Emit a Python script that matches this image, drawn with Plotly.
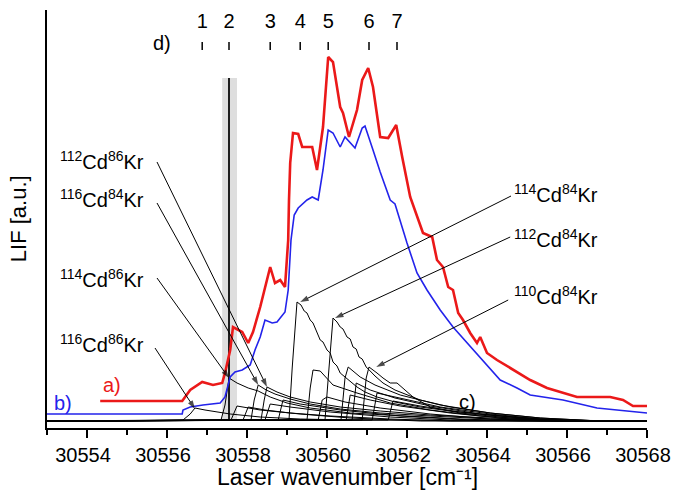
import plotly.graph_objects as go

# ---------------- data (wavenumber [cm-1], LIF [a.u.]) ----------------
red_x = [30554.33, 30556.38, 30556.58, 30556.88, 30557.15, 30557.38, 30557.45, 30557.58, 30557.65,
         30557.88, 30558.03, 30558.15, 30558.33, 30558.45, 30558.58, 30558.70, 30558.83, 30558.95,
         30559.03, 30559.05, 30559.08, 30559.15, 30559.28, 30559.38, 30559.63, 30559.75, 30559.90,
         30560.03, 30560.15, 30560.33, 30560.40, 30560.55, 30560.75, 30560.88, 30561.03, 30561.15,
         30561.33, 30561.53, 30561.73, 30561.88, 30562.08, 30562.40, 30562.63, 30562.75, 30562.90,
         30563.03, 30563.15, 30563.28, 30563.40, 30563.58, 30563.75, 30563.83, 30564.00, 30564.25,
         30564.65, 30565.08, 30565.50, 30565.90, 30566.25, 30567.08, 30567.40, 30567.65, 30568.0]
red_y = [27, 27, 38, 46, 43, 45, 55, 78, 101,
         96, 85, 96, 121, 141, 161, 145, 148, 141,
         188, 228, 265, 295, 294, 281, 281, 258, 301,
         371, 366, 321, 315, 291, 318, 348, 360, 341,
         291, 290, 303, 271, 231, 195, 191, 168, 161,
         141, 138, 115, 108, 95, 85, 91, 75, 68,
         58, 48, 40, 35, 31, 31, 28, 22, 22]

blue_x = [30553.0, 30556.38, 30556.40, 30556.58, 30556.90, 30557.33, 30557.45, 30557.58, 30557.70,
          30557.88, 30558.08, 30558.20, 30558.33, 30558.45, 30558.63, 30558.75, 30558.95, 30559.03,
          30559.10, 30559.18, 30559.28, 30559.50, 30559.63, 30559.78, 30559.90, 30560.03, 30560.15,
          30560.33, 30560.45, 30560.70, 30560.88, 30560.95, 30561.15, 30561.33, 30561.58, 30561.70,
          30562.00, 30562.25, 30562.50, 30562.83, 30563.15, 30563.50, 30563.83, 30564.33, 30564.75,
          30565.08, 30565.90, 30566.75, 30568.0]
blue_y = [14, 14, 18, 21, 23, 25, 31, 51, 56,
          58, 63, 78, 91, 108, 105, 106, 116, 138,
          188, 213, 220, 228, 231, 228, 258, 298, 295,
          281, 291, 280, 300, 302, 278, 256, 228, 224,
          185, 155, 138, 118, 101, 85, 70, 48, 40,
          33, 28, 20, 15]

# simulated isotopologue spectra (c), common baseline
base_y = 7
cd116kr86_x = [30556.40, 30556.58, 30556.70, 30556.95, 30557.58, 30558.33, 30559.33, 30560.58]
cd116kr86_y = [8, 14, 20, 18, 14, 11, 9, 8]
cd114kr86_x = [30557.35, 30557.45, 30557.55, 30557.75, 30558.03, 30558.28, 30558.58, 30559.00,
               30559.58, 30560.58, 30561.83, 30563.33, 30564.83]
cd114kr86_y = [8, 23, 50, 45, 40, 37, 31, 25, 20, 15, 12, 9, 7]
cd116kr84_x = [30558.10, 30558.18, 30558.28, 30558.48, 30558.70, 30559.08, 30559.58, 30560.33,
               30561.33, 30562.58, 30564.08, 30565.58]
cd116kr84_y = [8, 28, 43, 38, 34, 29, 24, 19, 15, 12, 9, 7]
cd112kr86_x = [30558.35, 30558.43, 30558.50, 30558.75, 30559.08, 30559.58, 30560.33, 30561.33,
               30562.58, 30564.08, 30565.83]
cd112kr86_y = [8, 28, 41, 36, 31, 26, 21, 17, 13, 10, 7]
cd114kr84_x = [30559.05, 30559.13, 30559.25, 30559.35, 30559.43, 30559.50, 30559.58, 30559.65,
               30559.73, 30559.83, 30559.90, 30560.00, 30560.08, 30560.15, 30560.25, 30560.33,
               30560.45, 30560.58, 30560.75, 30560.95, 30561.25, 30561.70, 30562.33, 30563.08,
               30564.08, 30565.33, 30566.58]
cd114kr84_y = [8, 60, 126, 123, 117, 115, 108, 105, 98, 88, 86, 78, 75, 66, 62, 55,
               51, 47, 41, 36, 31, 26, 21, 17, 13, 9, 7]
cd112kr84_x = [30559.95, 30560.05, 30560.15, 30560.25, 30560.33, 30560.40,
               30560.50, 30560.58, 30560.65, 30560.73, 30560.80, 30560.88, 30560.98, 30561.08,
               30561.20, 30561.40, 30561.70, 30562.33, 30563.08, 30564.08, 30565.33, 30566.83]
cd112kr84_y = [8, 60, 110, 106, 101, 99, 91, 89, 81, 79, 71, 69, 61, 57, 52, 45, 38, 28, 21, 15, 10, 7]
cd110kr84_x = [30560.88, 30560.98, 30561.05, 30561.25, 30561.40, 30561.58, 30561.75, 30561.95,
               30562.15, 30562.58, 30563.33, 30564.58, 30566.08]
cd110kr84_y = [8, 50, 61, 55, 50, 45, 45, 38, 31, 21, 15, 10, 7]
other1_x = [30559.50, 30559.58, 30559.65, 30559.83, 30560.15, 30560.75, 30561.58, 30562.58,
            30563.83, 30565.33, 30566.58]
other1_y = [8, 40, 58, 57, 43, 35, 25, 18, 12, 8, 7]
other2_x = [30560.35, 30560.45, 30560.53, 30560.83, 30561.20, 30561.83, 30562.83, 30564.08,
            30565.33, 30566.83]
other2_y = [8, 50, 61, 51, 43, 33, 23, 15, 10, 7]
other3_x = [30558.78, 30558.90, 30559.33, 30560.33, 30561.83, 30563.58]
other3_y = [8, 28, 24, 18, 12, 8]
other4_x = [30559.78, 30559.88, 30560.00, 30560.45, 30561.33, 30562.58, 30564.08, 30565.33]
other4_y = [8, 28, 31, 26, 20, 14, 9, 7]
other5_x = [30560.48, 30560.58, 30561.08, 30561.83, 30563.08, 30564.58, 30565.83]
other5_y = [8, 33, 28, 22, 15, 9, 7]
other6_x = [30561.13, 30561.25, 30561.83, 30562.83, 30564.08, 30565.33, 30566.83]
other6_y = [8, 35, 30, 21, 14, 9, 7]
other7_x = [30561.53, 30561.65, 30562.33, 30563.33, 30564.58, 30566.08]
other7_y = [8, 27, 22, 16, 11, 7]
other8_x = [30557.60, 30557.75, 30558.33, 30559.33, 30560.58, 30562.33]
other8_y = [8, 22, 18, 14, 10, 7]
other9_x = [30558.45, 30558.58, 30559.08, 30560.08, 30561.58, 30563.08]
other9_y = [8, 24, 21, 16, 11, 8]
other10_x = [30560.63, 30560.73, 30561.08, 30561.70, 30562.58, 30563.83, 30565.33]
other10_y = [8, 45, 38, 30, 22, 14, 8]
other11_x = [30557.90, 30558.03, 30558.45, 30559.08, 30560.08, 30561.58, 30563.08]
other11_y = [8, 21, 18, 15, 12, 9, 7]

sim_curves = [(cd116kr86_x, cd116kr86_y), (cd114kr86_x, cd114kr86_y), (cd116kr84_x, cd116kr84_y),
              (cd112kr86_x, cd112kr86_y), (cd114kr84_x, cd114kr84_y), (cd112kr84_x, cd112kr84_y),
              (cd110kr84_x, cd110kr84_y), (other1_x, other1_y), (other2_x, other2_y),
              (other3_x, other3_y), (other4_x, other4_y), (other5_x, other5_y), (other6_x, other6_y),
              (other7_x, other7_y), (other8_x, other8_y), (other9_x, other9_y),
              (other10_x, other10_y), (other11_x, other11_y)]

# (d) marked positions
peak_labels = ["1", "2", "3", "4", "5", "6", "7"]
peak_pos = [30556.88, 30557.55, 30558.58, 30559.33, 30560.03, 30561.05, 30561.75]

# grey band and line
band_x = [30557.38, 30557.75]
line_x = 30557.55
band_top = 350

# isotopologue labels
iso_labels = ["<sup>112</sup>Cd<sup>86</sup>Kr", "<sup>116</sup>Cd<sup>84</sup>Kr",
              "<sup>114</sup>Cd<sup>86</sup>Kr", "<sup>116</sup>Cd<sup>86</sup>Kr",
              "<sup>114</sup>Cd<sup>84</sup>Kr", "<sup>112</sup>Cd<sup>84</sup>Kr",
              "<sup>110</sup>Cd<sup>84</sup>Kr"]
iso_text_x = [30555.48, 30555.48, 30555.48, 30555.48, 30564.63, 30564.63, 30564.63]
iso_text_y = [268, 230, 150, 85, 235, 190, 133]
iso_side = ["right", "right", "right", "right", "left", "left", "left"]
iso_start_x = [30555.75, 30555.75, 30555.75, 30555.70, 30564.60, 30564.58, 30564.53]
iso_start_y = [266, 225, 150, 80, 232, 191, 128]
iso_end_x = [30558.50, 30558.28, 30557.55, 30556.70, 30559.33, 30560.20, 30561.23]
iso_end_y = [41, 43, 50, 19, 126, 110, 61]

x_ticks = [30554, 30556, 30558, 30560, 30562, 30564, 30566, 30568]

FONT = "Liberation Sans, Arial, sans-serif"

fig = go.Figure()

for cx, cy in sim_curves:
    fig.add_trace(go.Scatter(x=[30553.0] + cx + [30568.0], y=[base_y] + cy + [base_y],
                             mode="lines", line=dict(color="black", width=1),
                             hoverinfo="skip", showlegend=False))

fig.add_trace(go.Scatter(x=blue_x, y=blue_y, mode="lines",
                         line=dict(color="rgb(35,35,235)", width=1.6), showlegend=False))
fig.add_trace(go.Scatter(x=red_x, y=red_y, mode="lines",
                         line=dict(color="rgb(235,25,25)", width=2.6), showlegend=False))

# label pointer lines with arrowheads
for i in range(len(iso_labels)):
    fig.add_trace(go.Scatter(x=[iso_start_x[i], iso_end_x[i]], y=[iso_start_y[i], iso_end_y[i]],
                             mode="lines+markers", line=dict(color="black", width=1),
                             marker=dict(symbol=["circle", "arrow"], size=[0, 9],
                                         angleref="previous", color="black",
                                         line=dict(width=0)),
                             hoverinfo="skip", showlegend=False))

# tick marks of (d)
tx, ty = [], []
for p in peak_pos:
    tx += [p, p, None]
    ty += [378, 386, None]
fig.add_trace(go.Scatter(x=tx, y=ty, mode="lines", line=dict(color="black", width=1.5),
                         showlegend=False, hoverinfo="skip"))
fig.add_trace(go.Scatter(x=peak_pos, y=[405] * len(peak_pos), mode="text", text=peak_labels,
                         textfont=dict(size=20, color="black", family=FONT),
                         showlegend=False, hoverinfo="skip"))

fig.add_shape(type="rect", xref="x", yref="y", x0=band_x[0], x1=band_x[1], y0=base_y, y1=band_top,
              fillcolor="rgb(222,222,222)", line=dict(width=0), layer="below")
fig.add_shape(type="line", xref="x", yref="y", x0=line_x, x1=line_x, y0=base_y, y1=band_top,
              line=dict(color="rgb(30,30,30)", width=2), layer="below")

annotations = []
for i, t in enumerate(iso_labels):
    annotations.append(dict(x=iso_text_x[i], y=iso_text_y[i], xref="x", yref="y", text=t,
                            showarrow=False, xanchor=iso_side[i], yanchor="middle",
                            font=dict(size=20, color="black", family=FONT)))

annotations += [
    dict(x=30554.63, y=43, xref="x", yref="y", text="a)", showarrow=False,
         font=dict(size=20, color="rgb(235,25,25)", family=FONT)),
    dict(x=30553.40, y=25, xref="x", yref="y", text="b)", showarrow=False,
         font=dict(size=20, color="rgb(35,35,235)", family=FONT)),
    dict(x=30563.50, y=26, xref="x", yref="y", text="c)", showarrow=False,
         font=dict(size=20, color="black", family=FONT)),
    dict(x=30555.88, y=385, xref="x", yref="y", text="d)", showarrow=False,
         font=dict(size=20, color="black", family=FONT)),
    dict(x=-0.048, y=0.5, xref="paper", yref="paper", text="LIF [a.u.]", textangle=-90,
         showarrow=False, xanchor="center", yanchor="middle",
         font=dict(size=22, color="black", family=FONT)),
    dict(x=0.5, y=-0.117, xref="paper", yref="paper", text="Laser wavenumber [cm\u207b\u00b9]",
         showarrow=False, xanchor="center", yanchor="middle",
         font=dict(size=23, color="black", family=FONT)),
]

fig.update_layout(
    width=675, height=493,
    margin=dict(l=47, r=28, t=10, b=65, autoexpand=False),
    paper_bgcolor="white", plot_bgcolor="white",
    font=dict(family=FONT, color="black"),
    annotations=annotations,
    xaxis=dict(range=[30553, 30568], tickvals=x_ticks, ticktext=[str(v) for v in x_ticks],
               ticks="outside", ticklen=8, tickwidth=1.5, tickcolor="black", automargin=False,
               ticklabeloverflow="allow", ticklabelshift=-4,
               showline=True, linewidth=2, linecolor="black", showgrid=False, zeroline=False,
               tickfont=dict(size=20, family=FONT, color="black"),
               minor=dict(ticks="outside", ticklen=5, tickwidth=1.5, tickcolor="black",
                          dtick=1, tick0=30553, showgrid=False)),
    yaxis=dict(range=[0, 418], showline=True, linewidth=2, linecolor="black", automargin=False,
               showticklabels=False, ticks="", showgrid=False, zeroline=False),
)

fig.write_html("out.html")
